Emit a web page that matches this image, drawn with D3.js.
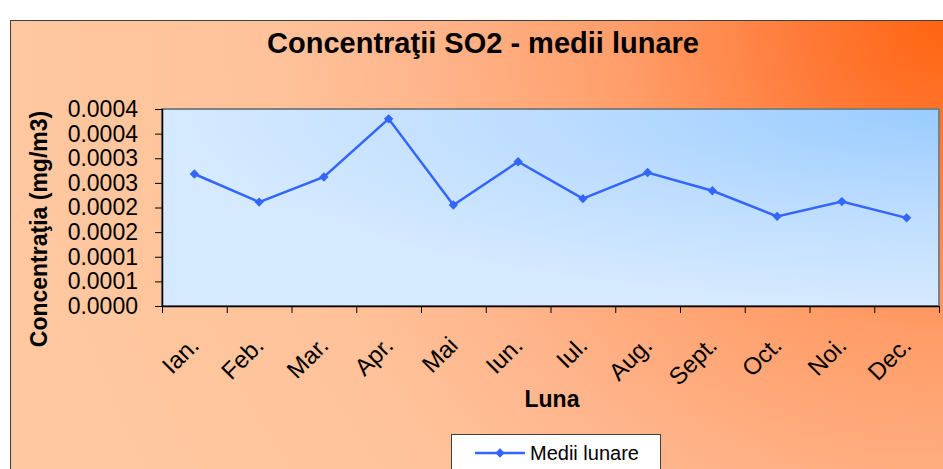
<!DOCTYPE html>
<html>
<head>
<meta charset="utf-8">
<script src="https://cdn.jsdelivr.net/npm/d3@7"></script>
<style>
  body { margin: 0; background: #fff; }
  svg { display: block; font-family: "Liberation Sans", Arial, sans-serif; }
</style>
</head>
<body>
<svg id="chart"></svg>
<script>
// monthly SO2 averages (mg/m3)
const months = ["Ian.", "Feb.", "Mar.", "Apr.", "Mai", "Iun.", "Iul.", "Aug.", "Sept.", "Oct.", "Noi.", "Dec."];
const values = [0.000268, 0.000211, 0.000262, 0.000380, 0.000205, 0.000293, 0.000218, 0.000271, 0.000234, 0.000182, 0.000212, 0.000179];
const yTicks = [0, 0.00005, 0.0001, 0.00015, 0.0002, 0.00025, 0.0003, 0.00035, 0.0004];
const yTickLabels = ["0.0000", "0.0001", "0.0001", "0.0002", "0.0002", "0.0003", "0.0003", "0.0004", "0.0004"];

const W = 943, H = 469;
const plot = {left: 162, top: 109, right: 939, bottom: 306};

const svg = d3.select("#chart").attr("width", W).attr("height", H);
const defs = svg.append("defs");

const outerGrad = defs.append("radialGradient")
    .attr("id", "outerGrad")
    .attr("gradientUnits", "userSpaceOnUse")
    .attr("cx", 943).attr("cy", 20).attr("r", 930);
[[0, "#ff6410"], [0.15, "#ff7a38"], [0.35, "#ff9e6a"], [0.55, "#ffb48a"], [0.72, "#ffc29a"], [1, "#ffc8a0"]]
    .forEach(s => outerGrad.append("stop").attr("offset", s[0]).attr("stop-color", s[1]));

const plotGrad = defs.append("radialGradient")
    .attr("id", "plotGrad")
    .attr("cx", "100%").attr("cy", "0%").attr("r", "100%");
[[0, "#99ccff"], [0.5, "#bcdcff"], [1, "#d6eaff"]]
    .forEach(s => plotGrad.append("stop").attr("offset", s[0]).attr("stop-color", s[1]));

// chart area
svg.append("rect")
    .attr("x", 10.5).attr("y", 20.5)
    .attr("width", W).attr("height", H)
    .attr("fill", "url(#outerGrad)")
    .attr("stroke", "#404040").attr("stroke-width", 1);

// title
svg.append("text")
    .attr("x", 483).attr("y", 53)
    .attr("text-anchor", "middle")
    .attr("font-size", 29).attr("font-weight", "bold")
    .text("Concentraţii SO2 - medii lunare");

// plot area
svg.append("rect")
    .attr("x", plot.left).attr("y", plot.top)
    .attr("width", plot.right - plot.left).attr("height", plot.bottom - plot.top)
    .attr("fill", "url(#plotGrad)")
    .attr("stroke", "#808080").attr("stroke-width", 2);

const xBand = d3.scaleBand().domain(months).range([plot.left, plot.right]).padding(0);
const xEdge = d3.scaleLinear().domain([0, months.length]).range([plot.left, plot.right]);
const yScale = d3.scaleLinear().domain([0, 0.0004]).range([plot.bottom, plot.top]);

const yAxis = d3.axisLeft(yScale)
    .tickValues(yTicks)
    .tickSize(7)
    .tickPadding(17)
    .tickFormat((d, i) => yTickLabels[i]);

const xAxis = d3.axisBottom(xEdge)
    .tickValues(d3.range(months.length + 1))
    .tickSize(7)
    .tickFormat("");

const yAxisG = svg.append("g")
    .attr("transform", `translate(${plot.left},0)`)
    .call(yAxis);
yAxisG.select(".domain").attr("stroke", "#000").attr("stroke-width", 1.5).attr("d", `M0.5,${plot.top}V${plot.bottom}`);
yAxisG.selectAll("text")
    .attr("font-size", 23).attr("font-family", "Liberation Sans, Arial, sans-serif").attr("fill", "#000");

const xAxisG = svg.append("g")
    .attr("transform", `translate(0,${plot.bottom})`)
    .call(xAxis);
xAxisG.select(".domain").attr("stroke", "#000").attr("stroke-width", 1.5).attr("d", `M${plot.left},0.5H${plot.right}`);

// rotated month labels
svg.append("g").selectAll("text")
    .data(months)
    .join("text")
    .attr("transform", d => `translate(${xBand(d) + xBand.bandwidth() / 2 + 6},347) rotate(-45)`)
    .attr("text-anchor", "end")
    .attr("font-size", 24)
    .text(d => d);

// axis titles
svg.append("text")
    .attr("transform", `translate(47,229) rotate(-90)`)
    .attr("text-anchor", "middle")
    .attr("font-size", 23).attr("font-weight", "bold")
    .text("Concentraţia (mg/m3)");

svg.append("text")
    .attr("x", 552).attr("y", 407)
    .attr("text-anchor", "middle")
    .attr("font-size", 23).attr("font-weight", "bold")
    .text("Luna");

// series
const line = d3.line()
    .x((d, i) => xBand(months[i]) + xBand.bandwidth() / 2)
    .y(d => yScale(d));

svg.append("path")
    .datum(values)
    .attr("d", line)
    .attr("fill", "none")
    .attr("stroke", "#3366ff")
    .attr("stroke-width", 2.5);

// square rotated 45deg gives Excel's even diamond
const diamond = d3.symbol().type(d3.symbolSquare).size(44);
svg.append("g").selectAll("path")
    .data(values)
    .join("path")
    .attr("transform", (d, i) => `translate(${xBand(months[i]) + xBand.bandwidth() / 2},${yScale(d)}) rotate(45)`)
    .attr("d", diamond)
    .attr("fill", "#3366ff");

// legend
const legend = svg.append("g");
legend.append("rect")
    .attr("x", 451.5).attr("y", 434.5)
    .attr("width", 209).attr("height", 60)
    .attr("fill", "#fff")
    .attr("stroke", "#404040");
legend.append("line")
    .attr("x1", 475).attr("x2", 525).attr("y1", 453).attr("y2", 453)
    .attr("stroke", "#3366ff").attr("stroke-width", 2.5);
legend.append("path")
    .attr("transform", "translate(500,453) rotate(45)")
    .attr("d", diamond)
    .attr("fill", "#3366ff");
legend.append("text")
    .attr("x", 530).attr("y", 460)
    .attr("font-size", 20)
    .text("Medii lunare");
</script>
</body>
</html>
